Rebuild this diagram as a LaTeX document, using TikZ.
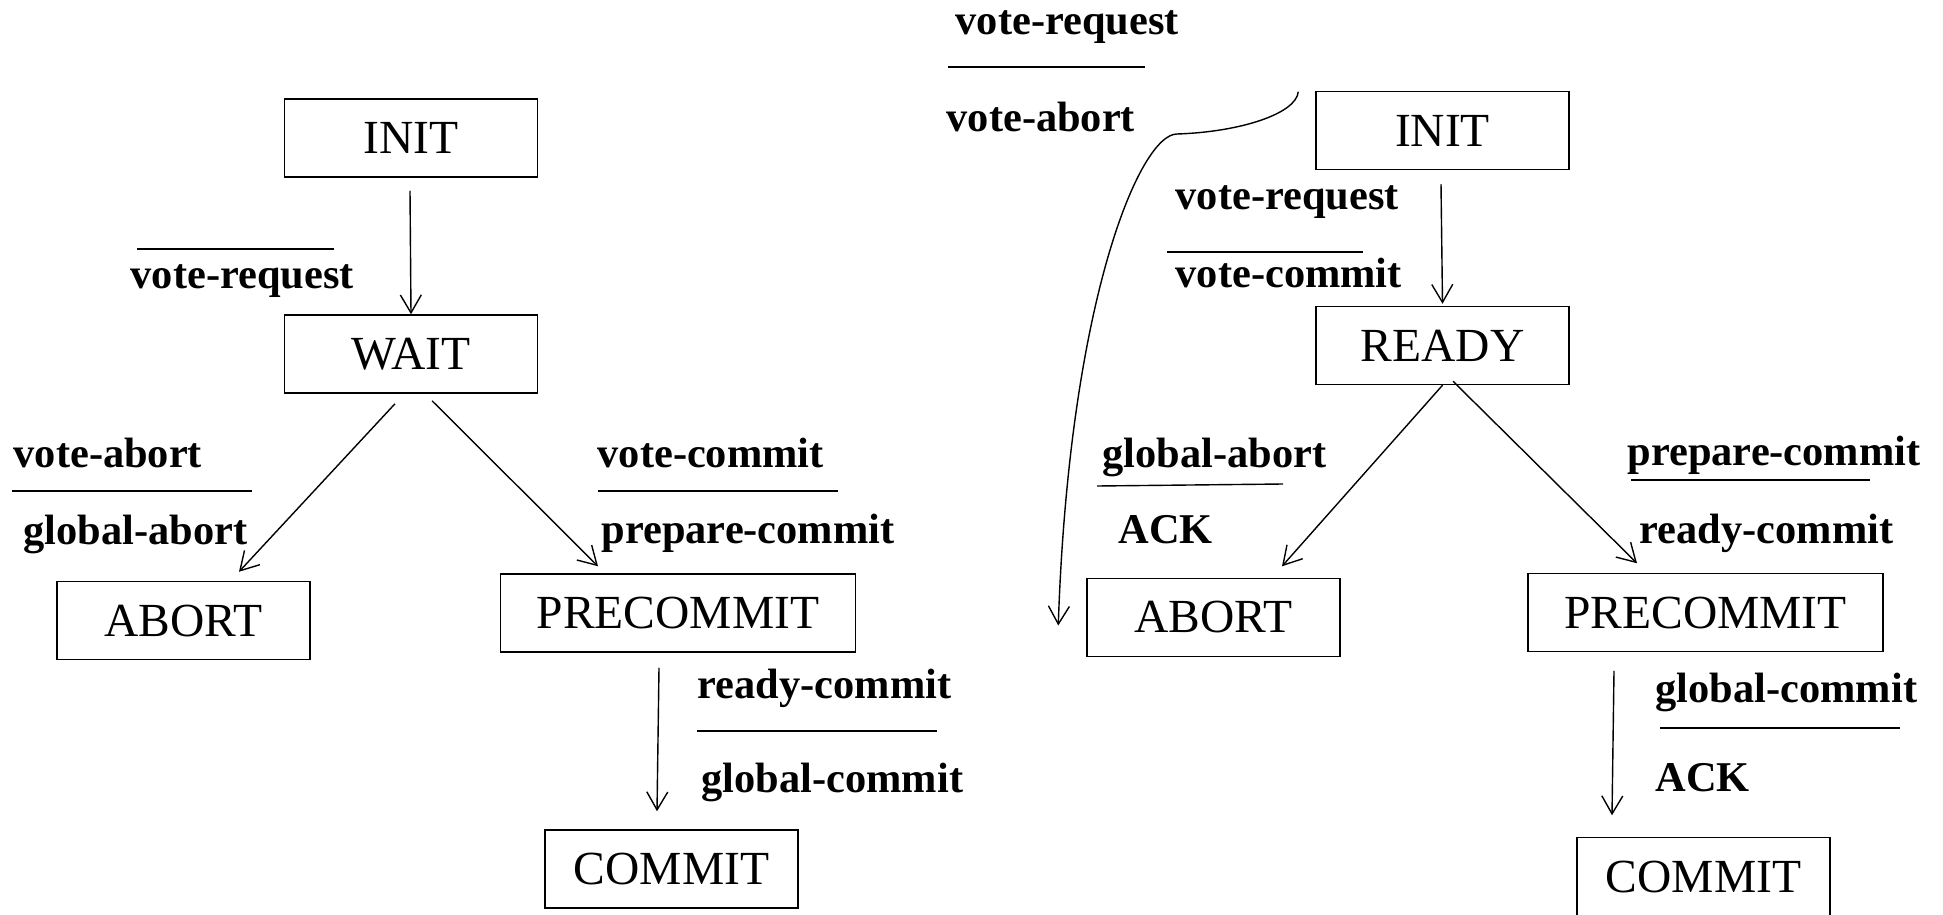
\documentclass[tikz,border=0pt]{standalone}
\usepackage{fontspec}
\setmainfont{Liberation Serif}
\usetikzlibrary{positioning,arrows.meta}

\begin{document}
\begin{tikzpicture}[x=0.5pt, y=-0.5pt, on grid, line width=0.7pt,
    >={Straight Barb[length=9pt,width=10.5pt]},
    phase/.style={draw, line width=0.75pt, minimum width=126.5pt, minimum height=39pt,
      inner xsep=4pt, font=\fontsize{23.75}{28}\selectfont},
    wide/.style={minimum width=177.5pt},
    msg/.style={anchor=base west, inner sep=0pt, font=\bfseries\fontsize{21.2}{25}\selectfont}]
    \useasboundingbox (0,0) rectangle (1943,915);

    % coordinator
    \node[phase] (initC) at (411,138) {INIT};
    \node[phase, below=108pt of initC] (waitC) {WAIT};
    \node[phase, below left=133.25pt and 113.75pt of waitC] (abortC) {ABORT};
    \node[phase, wide, below right=129.5pt and 133.5pt of waitC] (precomC) {PRECOMMIT};
    \node[phase, below=128pt of precomC, xshift=-3.25pt] (commitC) {COMMIT};

    % participant
    \node[phase] (initP) at (1442.5,130.5) {INIT};
    \node[phase, below=107.5pt of initP] (readyP) {READY};
    \node[phase, below left=136pt and 114.5pt of readyP] (abortP) {ABORT};
    \node[phase, wide, below right=133.5pt and 131.5pt of readyP] (precomP) {PRECOMMIT};
    \node[phase, below=132pt of precomP, xshift=-1pt] (commitP) {COMMIT};

    % transitions of the coordinator
    \draw[->] ([shift={(-1,13)}]initC.south) -- (waitC.north);
    \draw[->] ([shift={(-16,10)}]waitC.south) -- ([shift={(55.5,-9)}]abortC.north);
    \draw[->] ([shift={(21,7)}]waitC.south) -- ([shift={(-80,-7)}]precomC.north);
    \draw[->] ([shift={(-19,15)}]precomC.south) -- ([shift={(-14.5,-18)}]commitC.north);

    % transitions of the participant
    \draw[->] ([shift={(-1.5,14)}]initP.south) -- ([shift={(0,-2)}]initP.south |- readyP.north);
    \draw[->] (readyP.south) -- ([shift={(68.5,-11.5)}]abortP.north);
    \draw[->] ([shift={(10.5,-4)}]readyP.south) -- ([shift={(-68.5,-9.5)}]precomP.north);
    \draw[->] ([shift={(-91.5,18.5)}]precomP.south) -- ([shift={(-91.5,-21.5)}]commitP.north);

    % timeout in INIT: vote-request / vote-abort
    \coordinate (bend) at (1177,134);
    \draw[->] ([shift={(-17,1)}]initP.north west) .. controls +(-2,22) and +(63,-2) .. (bend)
      .. controls +(-37,0) and +(11,-326) .. ([shift={(-28,8)}]abortP.west);

    % messages, coordinator side
    \draw (137,249) -- (334,249);
    \node[msg] (reqC) at (130,288) {vote-request};

    \node[msg] (vabC) at (13,467) {vote-abort};
    \draw (12,491) -- (252,491);
    \node[msg] (gabC) at (23,544) {global-abort};

    \node[msg] (vcoC) at (597,467) {vote-commit};
    \draw (598,491) -- (838,491);
    \node[msg] (pcoC) at (601,543) {prepare-commit};

    \node[msg] (rcoC) at (697,698) {ready-commit};
    \draw (697,731) -- (937,731);
    \node[msg] (gcoC) at (701,792) {global-commit};

    % messages, participant side
    \node[msg] (reqP0) at (955,35) {vote-request};
    \draw (948,67) -- (1145,67);
    \node[msg] (vabP) at (946,132) {vote-abort};

    \node[msg] (reqP) at (1175,209) {vote-request};
    \draw (1167,252) -- (1363,252);
    \node[msg] (vcoP) at (1175,287) {vote-commit};

    \node[msg] (gabP) at (1102,467) {global-abort};
    \draw (1097,486) -- (1283,484);
    \node[msg] (ackA) at (1118,543) {ACK};

    \node[msg] (pcoP) at (1627,465) {prepare-commit};
    \draw (1631,480) -- (1870,480);
    \node[msg] (rcoP) at (1639,543) {ready-commit};

    \node[msg] (gcoP) at (1655,702) {global-commit};
    \draw (1660,728) -- (1900,728);
    \node[msg] (ackC) at (1655,791) {ACK};
\end{tikzpicture}
\end{document}
